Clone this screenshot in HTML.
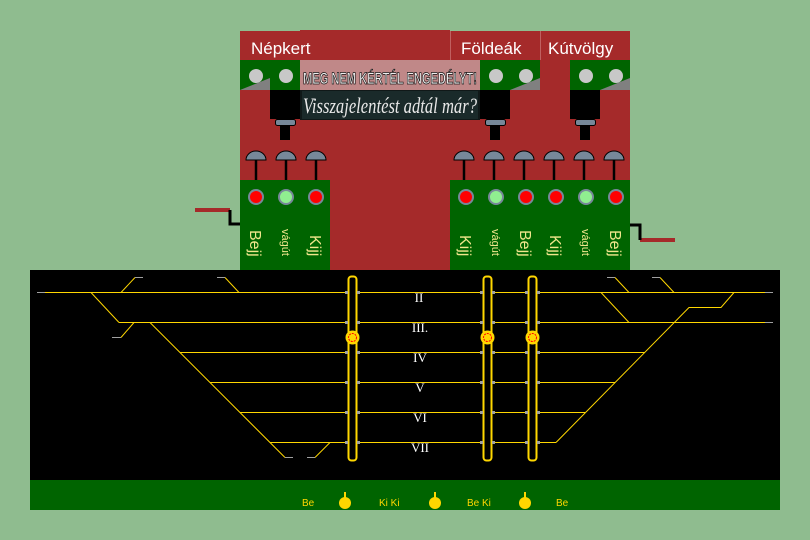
<!DOCTYPE html>
<html><head><meta charset="utf-8"><style>html,body{margin:0;padding:0;background:#8fbc8f}svg{display:block}</style></head><body>
<svg width="810" height="540" xmlns="http://www.w3.org/2000/svg" font-family="Liberation Sans, sans-serif">
<rect width="810" height="540" fill="#8fbc8f"/>
<!-- red panel -->
<rect x="240" y="31" width="390" height="239" fill="#a52a2a"/>
<rect x="300" y="30" width="150" height="2" fill="#a52a2a"/>
<line x1="450.5" y1="31" x2="450.5" y2="60" stroke="#c06060" stroke-width="1"/>
<line x1="540.5" y1="31" x2="540.5" y2="60" stroke="#c06060" stroke-width="1"/>
<text x="251" y="54" font-size="17" fill="#fff">Népkert</text>
<text x="461" y="54" font-size="17" fill="#fff">Földeák</text>
<text x="548" y="54" font-size="17" fill="#fff">Kútvölgy</text>
<!-- top greens -->
<rect x="240" y="60" width="60" height="30" fill="#006400"/>
<polygon points="240,90 270,90 270,78" fill="#808080"/>
<rect x="480" y="60" width="60" height="30" fill="#006400"/>
<polygon points="510,90 540,90 540,78" fill="#808080"/>
<rect x="570" y="60" width="60" height="30" fill="#006400"/>
<polygon points="600,90 630,90 630,78" fill="#808080"/>
<g fill="#c8c8c8"><circle cx="256" cy="76" r="7"/><circle cx="286" cy="76" r="7"/><circle cx="496" cy="76" r="7"/><circle cx="526" cy="76" r="7"/><circle cx="586" cy="76" r="7"/><circle cx="616" cy="76" r="7"/></g>
<!-- black boxes + buttons -->
<g fill="#000"><rect x="270" y="90" width="30" height="29"/><rect x="480" y="90" width="30" height="29"/><rect x="570" y="90" width="30" height="29"/>
<rect x="280" y="126" width="10" height="14"/><rect x="490" y="126" width="10" height="14"/><rect x="580" y="126" width="10" height="14"/></g>
<g fill="#778899" stroke="#000" stroke-width="1"><rect x="275.5" y="119.5" width="20" height="6" rx="2"/><rect x="485.5" y="119.5" width="20" height="6" rx="2"/><rect x="575.5" y="119.5" width="20" height="6" rx="2"/></g>
<!-- banner -->
<rect x="300" y="60" width="180" height="30" fill="#c08888"/>
<rect x="300" y="90" width="180" height="30" fill="#101818"/>
<rect x="302" y="91" width="176" height="28" fill="#1a2a2a"/>
<g font-family="Liberation Sans, sans-serif" font-size="17" font-weight="bold" fill="#eee" stroke="#111" stroke-width="0.8"><text x="303" y="84" textLength="174" lengthAdjust="spacingAndGlyphs">MEG NEM KÉRTÉL ENGEDÉLYT!</text></g>
<text x="303" y="113" font-family="Liberation Serif, serif" font-style="italic" font-size="22" fill="#e8e8e8" textLength="174" lengthAdjust="spacingAndGlyphs">Visszajelentést adtál már?</text>
<!-- dome signals -->
<g stroke="#000" stroke-width="2.5"><line x1="256" y1="160" x2="256" y2="181"/><line x1="286" y1="160" x2="286" y2="181"/><line x1="316" y1="160" x2="316" y2="181"/>
<line x1="464" y1="160" x2="464" y2="181"/><line x1="494" y1="160" x2="494" y2="181"/><line x1="524" y1="160" x2="524" y2="181"/><line x1="554" y1="160" x2="554" y2="181"/><line x1="584" y1="160" x2="584" y2="181"/><line x1="614" y1="160" x2="614" y2="181"/></g>
<g fill="#778899" stroke="#000" stroke-width="1">
<path d="M246,160 A10,9 0 0 1 266,160 Z"/><path d="M276,160 A10,9 0 0 1 296,160 Z"/><path d="M306,160 A10,9 0 0 1 326,160 Z"/>
<path d="M454,160 A10,9 0 0 1 474,160 Z"/><path d="M484,160 A10,9 0 0 1 504,160 Z"/><path d="M514,160 A10,9 0 0 1 534,160 Z"/><path d="M544,160 A10,9 0 0 1 564,160 Z"/><path d="M574,160 A10,9 0 0 1 594,160 Z"/><path d="M604,160 A10,9 0 0 1 624,160 Z"/></g>
<!-- lower greens -->
<rect x="240" y="180" width="90" height="90" fill="#006400"/>
<rect x="450" y="180" width="180" height="90" fill="#006400"/>
<g stroke="#778899" stroke-width="2">
<circle cx="256" cy="197" r="7" fill="#f00"/><circle cx="286" cy="197" r="7" fill="#90ee90"/><circle cx="316" cy="197" r="7" fill="#f00"/>
<circle cx="466" cy="197" r="7" fill="#f00"/><circle cx="496" cy="197" r="7" fill="#90ee90"/><circle cx="526" cy="197" r="7" fill="#f00"/>
<circle cx="556" cy="197" r="7" fill="#f00"/><circle cx="586" cy="197" r="7" fill="#90ee90"/><circle cx="616" cy="197" r="7" fill="#f00"/></g>
<g fill="#f0e68c" font-size="16">
<text transform="translate(250,230) rotate(90)">Bejj</text>
<text transform="translate(310,235) rotate(90)">Kijj</text>
<text transform="translate(460,235) rotate(90)">Kijj</text>
<text transform="translate(520,230) rotate(90)">Bejj</text>
<text transform="translate(550,235) rotate(90)">Kijj</text>
<text transform="translate(610,230) rotate(90)">Bejj</text>
</g>
<g fill="#f0e68c" font-size="11">
<text transform="translate(282,229) rotate(90)">vágút</text>
<text transform="translate(492,229) rotate(90)">vágút</text>
<text transform="translate(582,229) rotate(90)">vágút</text>
</g>
<!-- side wires -->
<rect x="195" y="208" width="35" height="4" fill="#a52a2a"/>
<polyline points="230,210 230,224 240,224" fill="none" stroke="#000" stroke-width="3"/>
<rect x="640" y="238" width="35" height="4" fill="#a52a2a"/>
<polyline points="630,225 640,225 640,240" fill="none" stroke="#000" stroke-width="3"/>
<!-- track area -->
<rect x="30" y="270" width="750" height="210" fill="#000"/>
<rect x="30" y="480" width="750" height="30" fill="#006400"/>
<g stroke="#ffd700" stroke-width="1" fill="none">
<line x1="45" y1="292.5" x2="346" y2="292.5"/><line x1="359" y1="292.5" x2="480" y2="292.5"/><line x1="494" y1="292.5" x2="525" y2="292.5"/><line x1="539" y1="292.5" x2="765" y2="292.5"/>
<line x1="119" y1="322.5" x2="346" y2="322.5"/><line x1="359" y1="322.5" x2="480" y2="322.5"/><line x1="494" y1="322.5" x2="525" y2="322.5"/><line x1="539" y1="322.5" x2="765" y2="322.5"/>
<line x1="180" y1="352.5" x2="346" y2="352.5"/><line x1="359" y1="352.5" x2="480" y2="352.5"/><line x1="494" y1="352.5" x2="525" y2="352.5"/><line x1="539" y1="352.5" x2="645" y2="352.5"/>
<line x1="210" y1="382.5" x2="346" y2="382.5"/><line x1="359" y1="382.5" x2="480" y2="382.5"/><line x1="494" y1="382.5" x2="525" y2="382.5"/><line x1="539" y1="382.5" x2="615" y2="382.5"/>
<line x1="240" y1="412.5" x2="346" y2="412.5"/><line x1="359" y1="412.5" x2="480" y2="412.5"/><line x1="494" y1="412.5" x2="525" y2="412.5"/><line x1="539" y1="412.5" x2="585" y2="412.5"/>
<line x1="270" y1="442.5" x2="346" y2="442.5"/><line x1="359" y1="442.5" x2="480" y2="442.5"/><line x1="494" y1="442.5" x2="525" y2="442.5"/><line x1="539" y1="442.5" x2="556" y2="442.5"/>
<polyline points="91,292.5 119,322.5"/><polyline points="150,322.5 285,457.5"/>
<polyline points="134,322.5 121,337.5"/><polyline points="121,292.5 135,277.5"/><polyline points="225,277.5 239,292.5"/>
<polyline points="315,457.5 330,442.5"/>
<polyline points="615,277.5 629,292.5"/><polyline points="660,277.5 674,292.5"/><polyline points="601,292.5 629,322.5"/>
<polyline points="734,292.5 721,307.5 689,307.5 556,442.5"/>
</g>
<g stroke="#a0a0a0" stroke-width="1">
<line x1="37" y1="292.5" x2="45" y2="292.5"/><line x1="765" y1="292.5" x2="773" y2="292.5"/><line x1="765" y1="322.5" x2="773" y2="322.5"/>
<line x1="112" y1="337.5" x2="121" y2="337.5"/><line x1="143" y1="277.5" x2="135" y2="277.5"/><line x1="217" y1="277.5" x2="225" y2="277.5"/>
<line x1="285" y1="457.5" x2="293" y2="457.5"/><line x1="307" y1="457.5" x2="315" y2="457.5"/>
<line x1="607" y1="277.5" x2="615" y2="277.5"/><line x1="652" y1="277.5" x2="660" y2="277.5"/>
</g>
<!-- columns -->
<g fill="none" stroke="#ffd700" stroke-width="2">
<rect x="348.5" y="276.5" width="8" height="184" rx="3"/>
<rect x="483.5" y="276.5" width="8" height="184" rx="3"/>
<rect x="528.5" y="276.5" width="8" height="184" rx="3"/>
</g>
<g fill="#a0a0a0">
<rect x="345" y="291" width="3" height="3"/><rect x="357" y="291" width="3" height="3"/><rect x="480" y="291" width="3" height="3"/><rect x="492" y="291" width="3" height="3"/><rect x="525" y="291" width="3" height="3"/><rect x="537" y="291" width="3" height="3"/>
<rect x="345" y="321" width="3" height="3"/><rect x="357" y="321" width="3" height="3"/><rect x="480" y="321" width="3" height="3"/><rect x="492" y="321" width="3" height="3"/><rect x="525" y="321" width="3" height="3"/><rect x="537" y="321" width="3" height="3"/>
<rect x="345" y="351" width="3" height="3"/><rect x="357" y="351" width="3" height="3"/><rect x="480" y="351" width="3" height="3"/><rect x="492" y="351" width="3" height="3"/><rect x="525" y="351" width="3" height="3"/><rect x="537" y="351" width="3" height="3"/>
<rect x="345" y="381" width="3" height="3"/><rect x="357" y="381" width="3" height="3"/><rect x="480" y="381" width="3" height="3"/><rect x="492" y="381" width="3" height="3"/><rect x="525" y="381" width="3" height="3"/><rect x="537" y="381" width="3" height="3"/>
<rect x="345" y="411" width="3" height="3"/><rect x="357" y="411" width="3" height="3"/><rect x="480" y="411" width="3" height="3"/><rect x="492" y="411" width="3" height="3"/><rect x="525" y="411" width="3" height="3"/><rect x="537" y="411" width="3" height="3"/>
<rect x="345" y="441" width="3" height="3"/><rect x="357" y="441" width="3" height="3"/><rect x="480" y="441" width="3" height="3"/><rect x="492" y="441" width="3" height="3"/><rect x="525" y="441" width="3" height="3"/><rect x="537" y="441" width="3" height="3"/>
</g>
<g fill="#ffd700"><circle cx="352.5" cy="337.5" r="7"/><circle cx="487.5" cy="337.5" r="7"/><circle cx="532.5" cy="337.5" r="7"/></g>
<g fill="none" stroke="#f00" stroke-width="1" stroke-dasharray="2,1"><circle cx="352.5" cy="337.5" r="4"/><circle cx="487.5" cy="337.5" r="4"/><circle cx="532.5" cy="337.5" r="4"/></g>
<!-- roman -->
<g font-family="Liberation Serif, serif" font-size="13" fill="#fff" text-anchor="middle">
<text x="419" y="302">II</text><text x="420" y="332">III.</text><text x="420" y="362">IV</text><text x="420" y="392">V</text><text x="420" y="422">VI</text><text x="420" y="452">VII</text>
</g>
<!-- bottom -->
<g fill="#ffd700" font-size="10">
<text x="302" y="506">Be</text><text x="379" y="506">Ki Ki</text><text x="467" y="506">Be Ki</text><text x="556" y="506">Be</text>
</g>
<g fill="#ffd700">
<circle cx="345" cy="503" r="6"/><rect x="344" y="492" width="2" height="6"/>
<circle cx="435" cy="503" r="6"/><rect x="434" y="492" width="2" height="6"/>
<circle cx="525" cy="503" r="6"/><rect x="524" y="492" width="2" height="6"/>
</g>
</svg>
</body></html>
